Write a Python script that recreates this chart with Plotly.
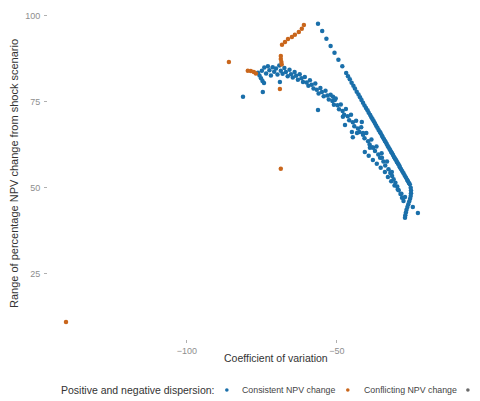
import plotly.graph_objects as go

# Consistent NPV change: upper ridge, its hook at the bottom, the lower band and loose points
ridge_cv = [-56.3, -54.9, -53.5, -52.1, -50.8, -49.5, -48.2, -46.9, -45.7, -44.5,
            -43.4, -42.3, -41.3, -40.3, -39.4, -38.5, -37.7, -36.9, -36.1, -35.4,
            -34.7, -34.0, -33.4, -32.8, -32.2, -31.6, -31.0, -30.5, -30.0, -29.5,
            -29.0, -28.6, -28.2, -27.8, -27.4, -27.0, -26.6, -26.3, -26.0, -25.7,
            -25.4, -25.3, -25.3, -25.4, -25.6, -25.9, -26.2, -26.5, -26.8, -27.0,
            -27.2, -27.3, -24.7, -23.0,
            -46.3, -45.1, -44.0, -42.8, -41.8, -40.8, -39.8, -38.9, -38.1, -37.3,
            -36.5, -35.7, -35.0, -34.3, -33.7, -33.1, -32.5, -31.9, -31.3, -30.7,
            -30.2, -29.7, -29.2]
ridge_rng = [97.6, 95.5, 93.3, 91.2, 89.2, 87.2, 85.3, 83.3, 81.5, 79.6,
             77.9, 76.3, 74.7, 73.2, 71.8, 70.5, 69.3, 68.0, 66.8, 65.8,
             64.7, 63.6, 62.7, 61.8, 60.9, 60.0, 59.0, 58.3, 57.5, 56.8,
             56.0, 55.4, 54.8, 54.2, 53.6, 53.0, 52.3, 51.9, 51.4, 51.0,
             50.0, 49.2, 48.4, 47.6, 46.8, 46.0, 45.2, 44.4, 43.6, 42.8,
             42.0, 41.3, 44.4, 42.7,
             82.4, 80.5, 78.8, 77.1, 75.5, 73.9, 72.5, 71.1, 69.9, 68.7,
             67.4, 66.3, 65.2, 64.1, 63.2, 62.2, 61.3, 60.4, 59.5, 58.6,
             57.9, 57.1, 56.4]

band_cv = [-76.3, -75.8, -75.3, -74.8, -74.3,
           -75.0, -74.2, -73.6, -73.0, -72.5, -72.0, -71.4, -70.9, -70.3, -69.8,
           -69.2, -68.7, -68.1, -67.5, -67.0, -66.4, -65.8, -65.3, -64.7, -64.1,
           -63.6, -63.0, -62.4, -61.8, -61.3, -60.7, -60.1, -59.5, -59.0, -58.4,
           -57.8, -57.2, -56.7, -56.1, -55.5, -55.0, -54.4, -53.8, -53.2, -52.7,
           -52.1, -51.5, -51.0, -50.4, -49.8, -49.3, -48.7, -48.1, -47.6, -47.0,
           -46.4, -45.9, -45.3, -44.7, -44.2, -43.6, -43.0, -42.5, -41.9, -41.3,
           -40.8, -40.2, -39.6, -39.1, -38.5, -37.9, -37.3, -36.8, -36.2, -35.6,
           -35.1, -34.5, -33.9, -33.3, -32.8, -32.2, -31.6, -31.1, -30.5, -29.9,
           -29.4, -28.8, -28.3, -27.8,
           -40.7, -39.4, -38.0, -36.7, -35.4, -34.0, -33.0, -31.9, -30.8, -29.7,
           -28.5, -27.3]
band_rng = [83.4, 82.6, 81.8, 81.0, 80.4,
            84.0, 84.9, 83.2, 85.3, 84.1, 82.6, 85.0, 83.7, 84.6, 82.9,
            85.5, 84.0, 83.1, 84.8, 83.6, 82.4, 84.3, 83.0, 82.0, 83.6,
            82.5, 81.4, 83.0, 81.8, 80.7, 82.2, 80.6, 79.6, 81.2, 79.9,
            78.8, 80.3, 78.5, 77.4, 79.0, 77.8, 76.6, 78.2, 76.8, 75.6,
            77.0, 75.2, 74.1, 75.9, 74.0, 72.8, 74.2, 72.3, 71.2, 72.9,
            70.8, 69.6, 71.2, 69.0, 67.9, 69.5, 67.2, 66.2, 67.6, 65.4,
            64.4, 65.9, 63.5, 62.6, 64.0, 61.6, 60.7, 62.0, 59.7, 58.7,
            60.0, 57.6, 56.5, 57.6, 55.4, 54.3, 53.4, 52.5, 51.5, 50.4,
            49.3, 48.2, 47.1, 46.2,
            60.4, 59.3, 58.1, 57.0, 55.8, 54.6, 53.1, 51.9, 50.7, 49.5,
            48.3, 47.3]

loose_cv = [-81.3, -74.7, -69.0, -56.3, -51.3, -50.7, -48.0, -47.3, -45.0, -44.7,
            -43.3, -41.7, -41.3, -39.0, -38.3, -35.0, -31.7]
loose_rng = [76.4, 77.8, 80.7, 72.6, 76.4, 75.5, 70.6, 68.2, 66.2, 64.7,
             65.9, 69.1, 65.9, 61.6, 61.8, 58.7, 54.6]

# Conflicting NPV change
conf_cv = [-140.3, -86.0, -79.7, -78.7, -77.7, -77.0,
           -68.7, -68.7, -68.5, -68.4,
           -68.3, -67.3, -66.3, -65.0, -64.0, -62.7, -61.7, -61.0,
           -69.0, -68.7]
conf_rng = [11.0, 86.5, 84.0, 83.9, 83.6, 83.2,
            88.3, 87.4, 86.5, 85.8,
            91.5, 92.3, 93.2, 93.8, 94.4, 95.2, 96.2, 97.3,
            78.7, 55.5]

y_ticks = [25, 50, 75, 100]
x_ticks = [-100, -50]

BLUE = "#1a6faa"
ORANGE = "#c9661c"
GREY = "#6a6a6a"
FONT = "Liberation Sans, Arial, sans-serif"

fig = go.Figure()
fig.add_trace(go.Scatter(
    x=ridge_cv + band_cv + loose_cv, y=ridge_rng + band_rng + loose_rng,
    mode="markers", marker=dict(color=BLUE, size=4.5, line=dict(width=0)),
    name="Consistent NPV change", showlegend=False))
fig.add_trace(go.Scatter(
    x=conf_cv, y=conf_rng,
    mode="markers", marker=dict(color=ORANGE, size=4.5, line=dict(width=0)),
    name="Conflicting NPV change", showlegend=False))

axis_common = dict(showgrid=False, zeroline=False, showline=False,
                   ticks="outside", ticklen=3, tickwidth=1, tickcolor="#b0b0b0",
                   tickfont=dict(family=FONT, size=9, color="#8e8e8e"))
fig.update_xaxes(range=[-146.3, -2.3], tickvals=x_ticks, **axis_common)
fig.update_yaxes(range=[6.1, 102.2], tickvals=y_ticks, ticklabelstandoff=2, **axis_common)
fig.update_yaxes(title=dict(text="Range of percentage NPV change from shock scenario",
                            font=dict(family=FONT, size=11, color="#333333"),
                            standoff=4))

annotations = [
    dict(text="Coefficient of variation", x=0.528, y=-0.057, xref="paper", yref="paper",
         xanchor="center", yanchor="middle", showarrow=False,
         font=dict(family=FONT, size=10.5, color="#333333")),
    dict(text="Positive and negative dispersion:", x=0.0255, y=-0.154, xref="paper",
         yref="paper", xanchor="left", yanchor="middle", showarrow=False,
         font=dict(family=FONT, size=10.5, color="#333333")),
    dict(text="Consistent NPV change", x=0.444, y=-0.154, xref="paper", yref="paper",
         xanchor="left", yanchor="middle", showarrow=False,
         font=dict(family=FONT, size=8.8, color="#444444")),
    dict(text="Conflicting NPV change", x=0.727, y=-0.154, xref="paper", yref="paper",
         xanchor="left", yanchor="middle", showarrow=False,
         font=dict(family=FONT, size=8.8, color="#444444")),
]

shapes = []
for xp, col in [(0.414, BLUE), (0.694, ORANGE), (0.972, GREY)]:
    shapes.append(dict(type="circle", xref="paper", yref="paper",
                       xsizemode="pixel", ysizemode="pixel",
                       xanchor=xp, yanchor=-0.154, x0=-1.8, x1=1.8, y0=-1.8, y1=1.8,
                       fillcolor=col, line=dict(width=0)))

fig.update_layout(
    width=480, height=401,
    margin=dict(l=48, r=0, t=8, b=62),
    paper_bgcolor="white", plot_bgcolor="white",
    annotations=annotations, shapes=shapes,
    showlegend=False,
)

fig.write_html("out.html")
